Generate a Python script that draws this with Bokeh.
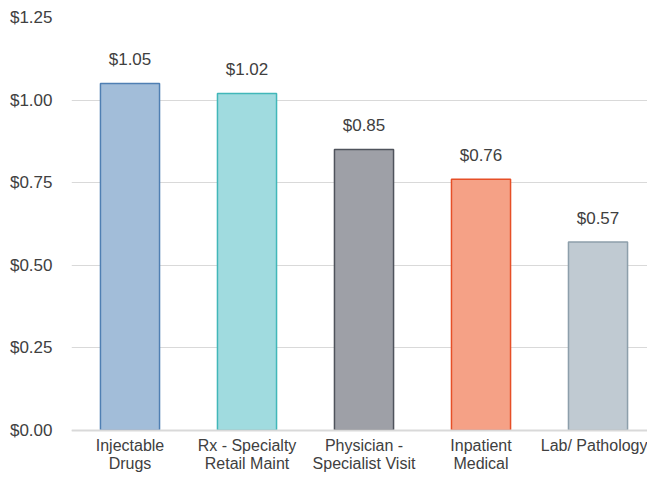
from bokeh.plotting import figure
from bokeh.models import ColumnDataSource, FixedTicker, NumeralTickFormatter, Range1d, LabelSet
from bokeh.core.properties import value
from bokeh.embed import file_html
from bokeh.resources import INLINE

categories = ["Injectable\nDrugs", "Rx - Specialty\nRetail Maint", "Physician -\nSpecialist Visit",
              "Inpatient\nMedical", "Lab/ Pathology"]
values = [1.05, 1.02, 0.85, 0.76, 0.57]
value_labels = ["$1.05", "$1.02", "$0.85", "$0.76", "$0.57"]
fill_colors = ["#a2bdd9", "#a0dbdf", "#9ea0a7", "#f5a186", "#c0cad2"]
line_colors = ["#4f7fb3", "#41b7b9", "#4f535c", "#e64f27", "#8d9fab"]
y_ticks = [0, 0.25, 0.5, 0.75, 1.0, 1.25]

xs = list(range(len(categories)))
src = ColumnDataSource(dict(x=xs, top=values, fill=fill_colors, line=line_colors, lab=value_labels))

p = figure(width=647, height=474, output_backend="svg", toolbar_location=None,
           x_range=Range1d(-0.5, 4.423), y_range=Range1d(-0.134, 1.25))
p.min_border_left = 71
p.min_border_right = 0
p.min_border_top = 17
p.min_border_bottom = 0
p.outline_line_color = None
p.background_fill_color = "white"
p.border_fill_color = "white"

p.vbar(x="x", top="top", width=0.505, bottom=0, source=src, fill_color="fill",
       line_color="line", line_width=1.5)

labels = LabelSet(x="x", y="top", text="lab", source=src, text_align="center",
                  text_baseline="middle", y_offset=24, text_font_size="17px",
                  text_color="#404040", text_font=value("Liberation Sans"))
p.add_layout(labels)

p.xgrid.grid_line_color = None
p.ygrid.grid_line_color = "#d9d9d9"
p.ygrid.grid_line_width = 1
p.yaxis.ticker = FixedTicker(ticks=y_ticks)
p.yaxis.formatter = NumeralTickFormatter(format="$0.00")
p.yaxis.axis_line_color = None
p.yaxis.major_tick_line_color = None
p.yaxis.minor_tick_line_color = None
p.yaxis.major_label_standoff = 13
p.yaxis.major_label_text_font_size = "17px"
p.yaxis.major_label_text_color = "#404040"
p.yaxis.major_label_text_font = "Liberation Sans"

p.xaxis.fixed_location = 0
p.xaxis.ticker = FixedTicker(ticks=xs)
p.xaxis.major_label_overrides = {i: c for i, c in enumerate(categories)}
p.xaxis.axis_line_color = "#d9d9d9"
p.xaxis.axis_line_width = 2
p.xaxis.major_tick_line_color = None
p.xaxis.minor_tick_line_color = None
p.xaxis.major_label_standoff = 1
p.xaxis.major_label_text_line_height = 1.05
p.xaxis.major_label_text_font_size = "16px"
p.xaxis.major_label_text_color = "#404040"
p.xaxis.major_label_text_font = "Liberation Sans"

open("out.html", "w").write(file_html(p, INLINE))
